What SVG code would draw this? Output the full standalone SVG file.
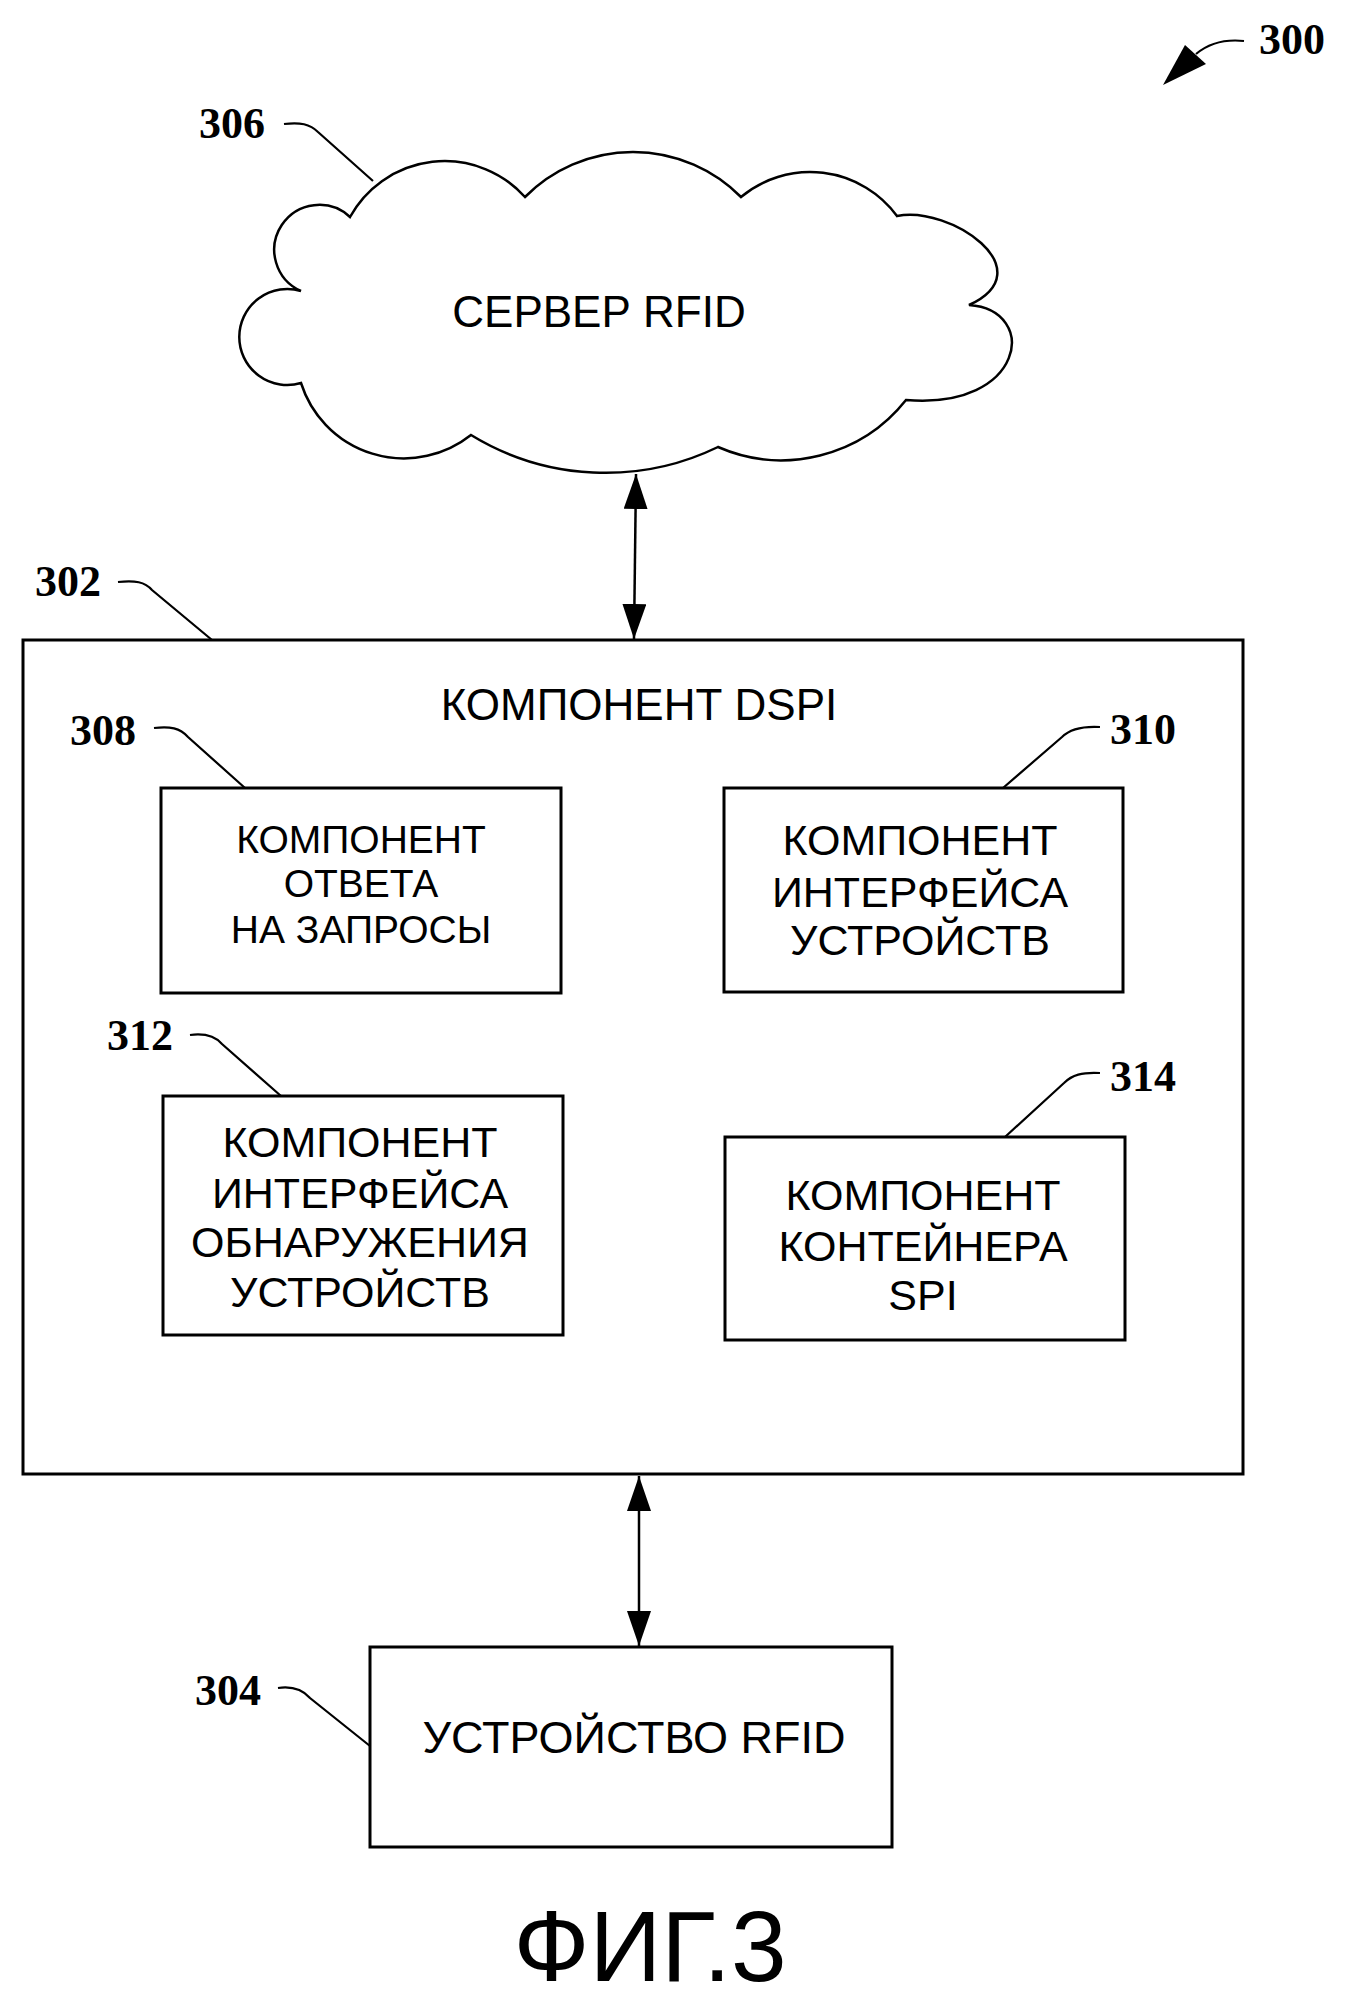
<svg xmlns="http://www.w3.org/2000/svg" width="1353" height="2001" viewBox="0 0 1353 2001">
<style>
.box{fill:none;stroke:#000;stroke-width:3}
.cloud{fill:none;stroke:#000;stroke-width:2.5;stroke-linejoin:miter}
.lead{fill:none;stroke:#000;stroke-width:2.2}
.conn{fill:none;stroke:#000;stroke-width:2.5}
.t{font-family:"Liberation Sans",Arial,sans-serif;fill:#000;text-anchor:middle}
.num{font-family:"Liberation Serif","Times New Roman",serif;font-weight:bold;font-size:44px;fill:#000}
</style>
<defs>
<marker id="ah" markerUnits="userSpaceOnUse" markerWidth="36" markerHeight="26" refX="35" refY="12" orient="auto-start-reverse" viewBox="0 0 36 26">
<path d="M0,0 L35,12 L0,24 Z" fill="#000"/>
</marker>
</defs>
<rect width="1353" height="2001" fill="#fff"/>

<g id="ref-300">
<text class="num" x="1259" y="54">300</text>
<path class="lead" d="M1244,41 C1225,39 1208,44 1196,54" stroke-width="3"/>
<polygon points="1163,85 1185,45 1206,64" fill="#000"/>
</g>

<g id="node-306">
<path class="cloud" d="M350,217 A108,108 0 0,1 525,197 A152,152 0 0,1 741,197 A108,108 0 0,1 897,216 C950,205 1045,270 969,305 C1040,310 1025,410 906,400 A159,159 0 0,1 718,447 A258,258 0 0,1 471,435 A108,108 0 0,1 301,383 A48,48 0 1,1 301,291 A45,45 0 1,1 350,217 Z"/>
<text class="t" x="599" y="327" font-size="44">СЕРВЕР RFID</text>
<text class="num" x="199" y="138">306</text>
<path class="lead" d="M284,124 C300,122 310,124 318,132 L373,181"/>
</g>

<g id="node-302">
<rect class="box" x="23" y="640" width="1220" height="834"/>
<text class="t" x="639" y="720" font-size="44">КОМПОНЕНТ DSPI</text>
<text class="num" x="35" y="596">302</text>
<path class="lead" d="M118,582 C135,580 145,582 152,590 L212,640"/>
</g>

<g id="node-308">
<rect class="box" x="161" y="788" width="400" height="205"/>
<text class="t" font-size="39"><tspan x="361" y="853">КОМПОНЕНТ</tspan><tspan x="361" y="897">ОТВЕТА</tspan><tspan x="361" y="943">НА ЗАПРОСЫ</tspan></text>
<text class="num" x="70" y="745">308</text>
<path class="lead" d="M154,728 C170,726 180,728 188,737 L245,788"/>
</g>

<g id="node-310">
<rect class="box" x="724" y="788" width="399" height="204"/>
<text class="t" font-size="43"><tspan x="920" y="855">КОМПОНЕНТ</tspan><tspan x="920" y="907">ИНТЕРФЕЙСА</tspan><tspan x="920" y="955">УСТРОЙСТВ</tspan></text>
<text class="num" x="1110" y="744">310</text>
<path class="lead" d="M1100,727 C1082,726 1070,729 1062,737 L1003,788"/>
</g>

<g id="node-312">
<rect class="box" x="163" y="1096" width="400" height="239"/>
<text class="t" font-size="43"><tspan x="360" y="1157">КОМПОНЕНТ</tspan><tspan x="360" y="1208">ИНТЕРФЕЙСА</tspan><tspan x="360" y="1257">ОБНАРУЖЕНИЯ</tspan><tspan x="360" y="1307">УСТРОЙСТВ</tspan></text>
<text class="num" x="107" y="1050">312</text>
<path class="lead" d="M190,1035 C205,1033 215,1036 222,1044 L281,1096"/>
</g>

<g id="node-314">
<rect class="box" x="725" y="1137" width="400" height="203"/>
<text class="t" font-size="43"><tspan x="923" y="1210">КОМПОНЕНТ</tspan><tspan x="923" y="1261">КОНТЕЙНЕРА</tspan><tspan x="923" y="1310">SPI</tspan></text>
<text class="num" x="1110" y="1091">314</text>
<path class="lead" d="M1100,1073 C1082,1072 1072,1075 1064,1083 L1005,1137"/>
</g>

<g id="node-304">
<rect class="box" x="370" y="1647" width="522" height="200"/>
<text class="t" x="634" y="1753" font-size="45">УСТРОЙСТВО RFID</text>
<text class="num" x="195" y="1705">304</text>
<path class="lead" d="M278,1688 C292,1686 302,1689 310,1698 L370,1746"/>
</g>

<g id="connectors">
<line class="conn" x1="636" y1="474" x2="634" y2="639" marker-start="url(#ah)" marker-end="url(#ah)"/>
<line class="conn" x1="639" y1="1476" x2="639" y2="1646" marker-start="url(#ah)" marker-end="url(#ah)"/>
</g>

<text class="t" x="650" y="1981" font-size="100">ФИГ.3</text>
</svg>
